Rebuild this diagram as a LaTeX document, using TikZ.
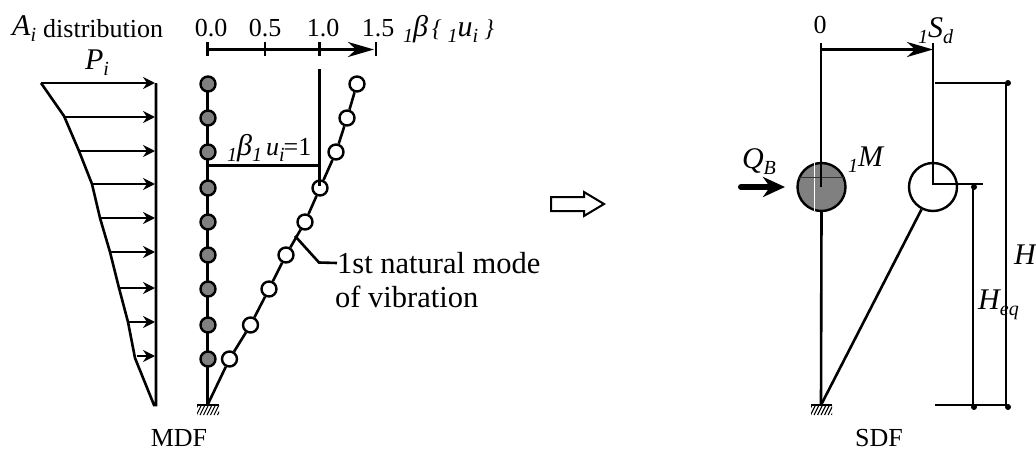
\documentclass[tikz,border=0pt]{standalone}
\usepackage{fontspec}
\setmainfont{Liberation Serif}
\usetikzlibrary{arrows.meta}
\newcommand{\sbs}[2][-6pt]{\raisebox{#1}{\fontsize{20}{20}\selectfont #2}}
\tikzset{
  lbl/.style={inner sep=0pt,font=\fontsize{26}{26}\selectfont},
  ital/.style={inner sep=0pt,font=\fontsize{30}{30}\selectfont\itshape},
  mass/.style={circle,draw,line width=2.4pt,fill=white,inner sep=0pt,minimum size=15pt},
  massfill/.style={mass,fill=black!50},
  bigmass/.style={circle,draw,line width=2.4pt,inner sep=0pt,minimum size=48pt},
  bar/.style={line width=2.6pt},
  load/.style={line width=2pt,-{Stealth[length=12pt,width=12pt,inset=4pt]}},
  axis/.style={line width=2.4pt,-{Stealth[length=26pt,width=15pt,inset=8pt]}},
  dotend/.style={circle,fill=black,inner sep=0pt,minimum size=6pt},
}
\begin{document}
\begin{tikzpicture}[x=1pt,y=-1pt]
\useasboundingbox (0,0) rectangle (1036,452);
% load diagram
\coordinate (top) at (156,83);
\coordinate (foot) at (156,405);
\draw[bar] (top) -- (foot) -- (154,405) -- (135,358) -- (128,322) -- (119,288) -- (110,252) -- (100,218) -- (92,184) -- (79,151) -- (64,116) -- (41,83);
\foreach \ya/\xa in {83/41,117/64,151/79,184/92,218/100,252/110,288/119,322/129,356/137}
  {\coordinate (s\ya) at (\xa,\ya); \coordinate (e\ya) at (155,\ya);
   \draw[load] (s\ya) -- (e\ya);}
\node[ital,anchor=west] (ai) at (12,29) {A\sbs{i}};
\node[lbl,anchor=west] (dist) at (43,29) {distribution};
\node[ital] (pi) at (97,63) {P\sbs{i}};
% axis
\coordinate (ax0) at (207.5,49.5);
\coordinate (ax1) at (265,49.5);
\coordinate (ax2) at (319.5,49.5);
\coordinate (ax3) at (376,49.5);
\draw[axis,shorten >=2pt] (ax0) -- (ax3);
\foreach \p in {ax0,ax1,ax2,ax3}
  \draw[bar] ([yshift=-6.5pt]\p) -- ([yshift=7.5pt]\p);
\node[lbl] (t0) at (211,28) {0.0};
\node[lbl] (t1) at (265,28) {0.5};
\node[lbl] (t2) at (323,28) {1.0};
\node[lbl] (t3) at (378,28) {1.5};
\node[ital,anchor=west] (bu) at (403,29) {\sbs{1}β\kern4pt{\fontsize{24}{24}\selectfont\{}\kern6pt\sbs{1}u\sbs{i}\kern6pt{\fontsize{24}{24}\selectfont\}}};
% MDF column
\coordinate (base) at (207.5,405);
\coordinate (basel) at (197,405);
\coordinate (baser) at (219,405);
\draw[bar] (207.5,84) -- (base);
\begin{scope}
\clip (197,405) rectangle (219,415);
\foreach \xa in {193,196.5,...,218}
  \draw[line width=1.1pt] (\xa,415) -- ++(5,-10);
\end{scope}
\draw[bar] (basel) -- (baser);
\foreach \i/\ya in {1/84,2/118,3/152,4/188,5/222,6/255,7/289,8/325,9/359}
  \node[massfill] (m\i) at (208,\ya) {};
% first mode
\node[mass] (u1) at (357,84) {};
\node[mass] (u2) at (347,118) {};
\node[mass] (u3) at (336,152) {};
\node[mass] (u4) at (320,188) {};
\node[mass] (u5) at (305,222) {};
\node[mass] (u6) at (286,255) {};
\node[mass] (u7) at (269,289) {};
\node[mass] (u8) at (250.5,325) {};
\node[mass] (u9) at (229.5,359) {};
\draw[bar] (base) -- (u9) -- (u8) -- (u7) -- (u6) -- (u5) -- (u4) -- (u3) -- (u2) -- (u1);
\coordinate (one) at (319.5,69);
\coordinate (oneb) at (319.5,186);
\draw[bar] (one) -- (oneb);
\coordinate (hl) at (206,165.5);
\coordinate (hr) at (321,165.5);
\draw[bar] (hl) -- (hr);
\node[ital,anchor=west] (bone) at (227,148) {\sbs{1}β\sbs{1}\kern4pt{\fontsize{26}{26}\selectfont u}\sbs{i}\kern-1pt{\fontsize{26}{26}\selectfont\upshape =1}};
% leader
\coordinate (lead) at (295,236);
\node[lbl,anchor=west,font=\fontsize{30.5}{30.5}\selectfont] (nm1) at (337,263) {1st natural mode};
\node[lbl,anchor=west,font=\fontsize{30.5}{30.5}\selectfont] (nm2) at (335,297) {of vibration};
\draw[bar] (lead) -- (319,262.5) -- (nm1.west);
\node[lbl] (mdf) at (179,438) {MDF};
% big arrow
\draw[line width=2pt,fill=white] (551,197) -- (584,197) -- (584,192) -- (604,204) -- (584,216) -- (584,211) -- (551,211) -- cycle;
% SDF
\coordinate (sa) at (821,49.5);
\coordinate (sb) at (933,49.5);
\draw[axis] (sa) -- (sb);
\coordinate (sabot) at (821,405);
\node[bigmass,fill=black!50] (mass) at (821.5,187) {};
\draw[white,line width=.8pt] (814.5,163) -- (814.5,211);
\draw[black!80,line width=.6pt] (799,177) -- (844,177);
\draw[bar] (821,43) -- (821,187);
\draw[bar] (mass.south) -- (sabot);
\begin{scope}
\clip (811,405) rectangle (832,415);
\foreach \xa in {807,810.5,...,832}
  \draw[line width=1.1pt] (\xa,415) -- ++(5,-10);
\end{scope}
\draw[bar] (811,405) -- (832,405);
\node[bigmass,fill=white] (disp) at (933,187) {};
\coordinate (dc) at (933,184);
\draw[bar] (933,43) -- (dc) -- (983,184);
\draw[bar] (sabot) -- (disp);
\coordinate (lev1) at (935,83);
\node[dotend] (d1) at (1008,83) {};
\draw[bar] (lev1) -- (d1);
\coordinate (lev2) at (935,405);
\node[dotend] (d2) at (974,407) {};
\node[dotend] (d3) at (1008,407) {};
\draw[bar] (lev2) -- (1006,405);
\draw[bar] (1006,83) -- (1006,405);
\draw[bar] (973,187) -- (973,405);
\node[dotend] (d4) at (974,187) {};
\node[lbl] (zero) at (820,25) {0};
\node[ital,anchor=west] (sd) at (918,31) {\sbs{1}S\sbs{d}};
\node[ital] (qb) at (759,162) {Q\sbs{B}};
\coordinate (qs) at (741,187);
\coordinate (qe) at (785,187);
\draw[line width=6pt,line cap=round,-{Stealth[length=22pt,width=20pt,inset=7pt]}] (qs) -- (qe);
\node[ital,anchor=west] (mm) at (848,160) {\sbs{1}M};
\node[ital,anchor=west] (hh) at (1014,255) {H};
\node[ital,anchor=west] (he) at (978,305) {H\sbs{eq}};
\node[lbl] (sdf) at (879,438) {SDF};
\end{tikzpicture}
\end{document}
